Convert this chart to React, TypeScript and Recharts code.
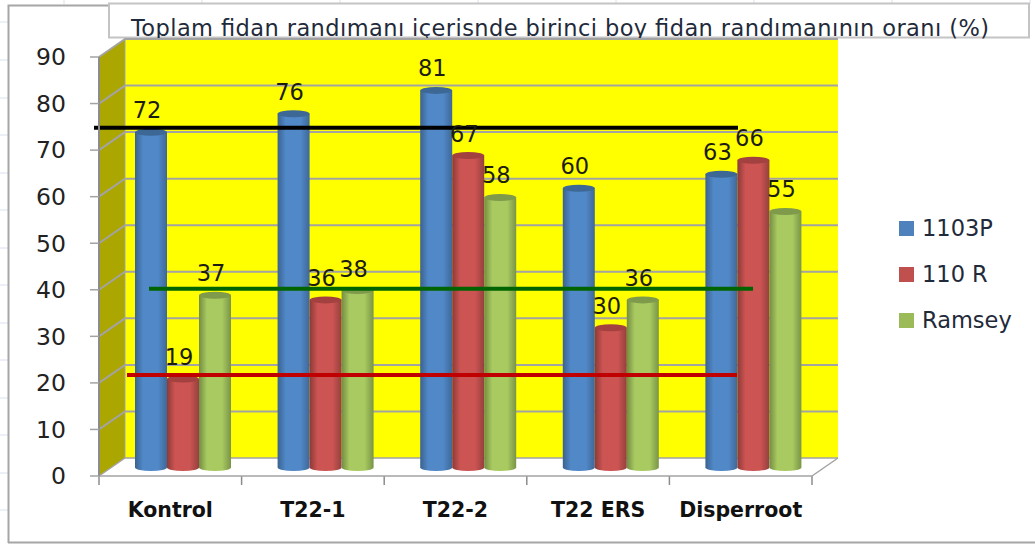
import React from "react";
import { ComposedChart, Bar, XAxis, YAxis, Legend, ReferenceLine, LabelList } from "recharts";

const categories = ["Kontrol", "T22-1", "T22-2", "T22 ERS", "Disperroot"];
const p1103 = [72, 76, 81, 60, 63];
const r110 = [19, 36, 67, 30, 66];
const ramsey = [37, 38, 58, 36, 55];
const yTicks = [0, 10, 20, 30, 40, 50, 60, 70, 80, 90];
const blackLevel = 74.8;
const greenLevel = 40.2;
const redLevel = 21.7;

const data = categories.map((name, i) => ({
  name,
  p1103: p1103[i],
  r110: r110[i],
  ramsey: ramsey[i],
}));

const W = 1035;
const H = 545;
const LEFT = 99;
const RIGHT = 812;
const TOP = 57;
const BOTTOM = 476;
// 3D depth of the plot box
const DX = 26;
const DY = 18;
// bars stand in the middle of the floor
const BAR_DX = 13;
const BAR_DY = 8.5;

const FONT = "'DejaVu Sans', sans-serif";

const yOf = (v: number) => BOTTOM - ((BOTTOM - TOP) * v) / 90;

function Backdrop() {
  const step = (RIGHT - LEFT) / categories.length;
  return (
    <g>
      {/* sheet gridlines peeking out around the chart */}
      {[22, 60, 98, 135, 173, 210, 248, 285, 323, 360, 398, 435, 473, 510].map((y) => (
        <line key={y} x1={0} x2={8} y1={y} y2={y} stroke="#d9e0ef" />
      ))}
      {[64, 202, 340, 478, 616, 754, 892, 1030].map((x) => (
        <line key={x} x1={x} x2={x} y1={0} y2={4} stroke="#d9e0ef" />
      ))}
      <path d={`M8.5 ${H - 2}V5.5H110`} fill="none" stroke="#a6a6a6" strokeWidth={2} />
      <line x1={8} x2={W} y1={H - 2.5} y2={H - 2.5} stroke="#a6a6a6" strokeWidth={2} />
      <rect x={109} y={3.5} width={920} height={34} fill="#fff" stroke="#c4c4c4" strokeWidth={2} />
      <text x={131} y={35.5} fontFamily={FONT} fontSize={22.5} textLength={858} fill="#1f2a3a">
        Toplam fidan randımanı içerisnde birinci boy fidan randımanının oranı (%)
      </text>

      <rect x={LEFT + DX} y={TOP - DY} width={RIGHT - LEFT} height={BOTTOM - TOP} fill="#ffff00" />
      <polygon
        points={`${LEFT},${TOP} ${LEFT + DX},${TOP - DY} ${LEFT + DX},${BOTTOM - DY} ${LEFT},${BOTTOM}`}
        fill="#aca600"
      />
      <polygon
        points={`${LEFT},${BOTTOM} ${RIGHT},${BOTTOM} ${RIGHT + DX},${BOTTOM - DY} ${LEFT + DX},${BOTTOM - DY}`}
        fill="#fff"
      />
      {yTicks.map((t) => (
        <path
          key={t}
          d={`M${LEFT} ${yOf(t)}L${LEFT + DX} ${yOf(t) - DY}H${RIGHT + DX}`}
          fill="none"
          stroke="#a3a3a3"
          strokeWidth={t === 0 ? 1.5 : 2}
        />
      ))}
      <line x1={LEFT + DX} x2={LEFT + DX} y1={TOP - DY} y2={BOTTOM - DY} stroke="#a3a3a3" />
      <line x1={RIGHT} x2={RIGHT + DX} y1={BOTTOM} y2={BOTTOM - DY} stroke="#a3a3a3" strokeWidth={1.5} />
      {categories.concat("").map((_, i) => (
        <line
          key={i}
          x1={LEFT + i * step}
          x2={LEFT + i * step}
          y1={BOTTOM}
          y2={BOTTOM + 9}
          stroke="#8c8c8c"
          strokeWidth={1.5}
        />
      ))}
      <defs>
        {[
          ["blue", "#3b628f", "#5088c8", "#3f6897"],
          ["red", "#8c3a38", "#cc5452", "#94403e"],
          ["green", "#748c43", "#a8ca60", "#7a9447"],
        ].map(([id, edge, mid, right]) => (
          <linearGradient key={id} id={`cyl-${id}`} x1="0" x2="1" y1="0" y2="0">
            <stop offset="0" stopColor={edge} />
            <stop offset="0.25" stopColor={mid} />
            <stop offset="0.72" stopColor={mid} />
            <stop offset="1" stopColor={right} />
          </linearGradient>
        ))}
      </defs>
    </g>
  );
}

const cylinder = (id: string, capColor: string) => (props: any) => {
  const { x, y, width, height } = props;
  const left = x + BAR_DX;
  const top = y - BAR_DY;
  const ry = 3.5;
  const rx = width / 2;
  return (
    <g>
      <path
        d={`M${left} ${top}V${top + height}A${rx} ${ry} 0 0 0 ${left + width} ${top + height}V${top}Z`}
        fill={`url(#cyl-${id})`}
      />
      <ellipse cx={left + rx} cy={top} rx={rx} ry={ry} fill={capColor} />
    </g>
  );
};

const barLabel = (props: any) => {
  const { x, y, width, value } = props;
  return (
    <text
      x={x + width / 2 + BAR_DX - 4}
      y={y - BAR_DY - 14}
      textAnchor="middle"
      fontFamily={FONT}
      fontSize={22.5}
      fill="#1c1c10"
    >
      {value}
    </text>
  );
};

const levelLine = (color: string, x1: number, x2: number) => (props: any) => (
  <line x1={x1} x2={x2} y1={props.y1} y2={props.y2} stroke={color} strokeWidth={4} />
);

const legendContent = ({ payload }: any) => (
  <div>
    {(payload || []).map((item: any) => (
      <div key={item.value} style={{ display: "flex", alignItems: "center", height: 46 }}>
        <span style={{ width: 15, height: 15, background: item.color, marginRight: 8 }} />
        <span style={{ fontFamily: FONT, fontSize: 22.5, color: "#1f2a3a" }}>{item.value}</span>
      </div>
    ))}
  </div>
);

export default function App() {
  return (
    <div style={{ position: "absolute", left: 0, top: 0, width: W, height: H, background: "#fff" }}>
      <ComposedChart
        width={W}
        height={H}
        data={data}
        margin={{ top: TOP, right: W - RIGHT, bottom: 29, left: 9 }}
        barCategoryGap={23}
        barGap={0}
      >
        <Backdrop />
        <XAxis
          dataKey="name"
          height={40}
          axisLine={{ stroke: "#a3a3a3", strokeWidth: 1.5 }}
          tickLine={false}
          tickMargin={20}
          interval={0}
          tick={{ fontFamily: FONT, fontSize: 20.5, fontWeight: 700, fill: "#111" }}
        />
        <YAxis
          width={90}
          domain={[0, 90]}
          ticks={yTicks}
          interval={0}
          axisLine={{ stroke: "#8c8c8c", strokeWidth: 2 }}
          tickLine={{ stroke: "#a3a3a3", strokeWidth: 1.5 }}
          tickSize={9}
          tickMargin={24}
          tick={{ fontFamily: FONT, fontSize: 23.5, fill: "#222" }}
        />
        <Legend
          layout="vertical"
          align="center"
          verticalAlign="middle"
          content={legendContent}
          itemSorter={null}
          wrapperStyle={{ position: "absolute", left: 899, top: 205, width: 130 }}
        />
        <Bar dataKey="p1103" name="1103P" fill="#4f81bd" isAnimationActive={false} shape={cylinder("blue", "#3d6896")}>
          <LabelList dataKey="p1103" content={barLabel} />
        </Bar>
        <Bar dataKey="r110" name="110 R" fill="#c0504d" isAnimationActive={false} shape={cylinder("red", "#a2413f")}>
          <LabelList dataKey="r110" content={barLabel} />
        </Bar>
        <Bar dataKey="ramsey" name="Ramsey" fill="#9bbb59" isAnimationActive={false} shape={cylinder("green", "#7f9a4b")}>
          <LabelList dataKey="ramsey" content={barLabel} />
        </Bar>
        <ReferenceLine y={blackLevel} shape={levelLine("#000", 94, 738)} />
        <ReferenceLine y={greenLevel} shape={levelLine("#006400", 149, 753)} />
        <ReferenceLine y={redLevel} shape={levelLine("#c00000", 127, 737)} />
      </ComposedChart>
    </div>
  );
}
